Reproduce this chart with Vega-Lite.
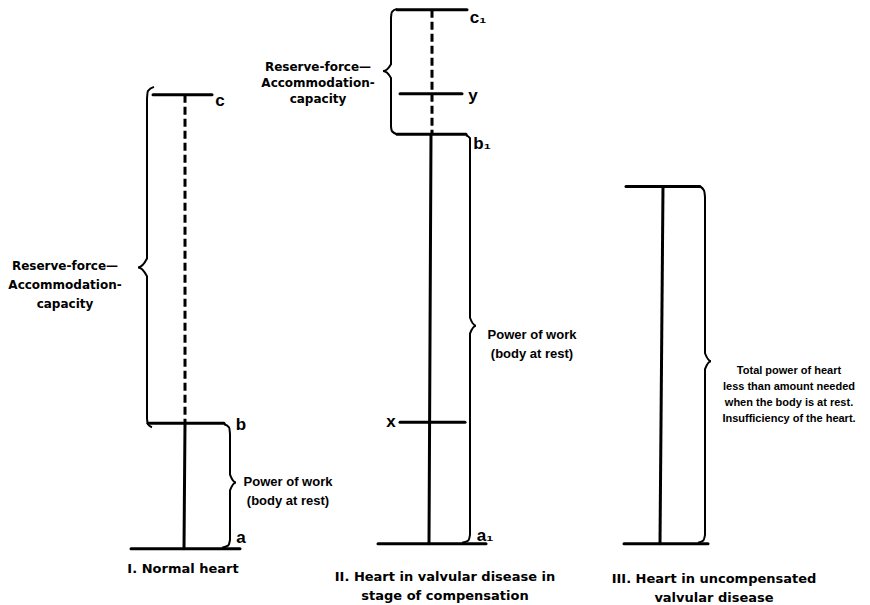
{
  "$schema": "https://vega.github.io/schema/vega-lite/v6.json",
  "width": 870,
  "height": 605,
  "autosize": {"type": "fit", "contains": "padding"},
  "padding": 0,
  "background": "white",
  "config": {"view": {"stroke": null}},
  "datasets": {
    "solid": [
      {"x": 153, "y": 96, "x2": 212, "y2": 96},
      {"x": 148, "y": 429, "x2": 224, "y2": 429},
      {"x": 131, "y": 556, "x2": 240, "y2": 556},
      {"x": 185, "y": 429, "x2": 184, "y2": 556},
      {"x": 397, "y": 10, "x2": 467, "y2": 10},
      {"x": 400, "y": 95, "x2": 462, "y2": 95},
      {"x": 397, "y": 136, "x2": 466, "y2": 136},
      {"x": 400, "y": 428, "x2": 465, "y2": 428},
      {"x": 378, "y": 551, "x2": 486, "y2": 551},
      {"x": 431, "y": 136, "x2": 429, "y2": 551},
      {"x": 626, "y": 189, "x2": 700, "y2": 189},
      {"x": 624, "y": 551, "x2": 708, "y2": 551},
      {"x": 663, "y": 189, "x2": 660, "y2": 551}
    ],
    "dashed": [
      {"x": 185, "y": 96, "x2": 185, "y2": 429},
      {"x": 432, "y": 10, "x2": 432, "y2": 136}
    ],
    "braces": [
      {"id": "I-left", "o": 1, "x": 154, "y": 88},
      {"id": "I-left", "o": 2, "x": 148, "y": 92},
      {"id": "I-left", "o": 3, "x": 147, "y": 100},
      {"id": "I-left", "o": 4, "x": 147, "y": 262},
      {"id": "I-left", "o": 5, "x": 138, "y": 271},
      {"id": "I-left", "o": 6, "x": 147, "y": 280},
      {"id": "I-left", "o": 7, "x": 147, "y": 424},
      {"id": "I-left", "o": 8, "x": 148, "y": 430},
      {"id": "I-left", "o": 9, "x": 152, "y": 433},
      {"id": "I-right", "o": 1, "x": 224, "y": 430},
      {"id": "I-right", "o": 2, "x": 229, "y": 433},
      {"id": "I-right", "o": 3, "x": 230, "y": 440},
      {"id": "I-right", "o": 4, "x": 230, "y": 481},
      {"id": "I-right", "o": 5, "x": 236, "y": 489},
      {"id": "I-right", "o": 6, "x": 230, "y": 497},
      {"id": "I-right", "o": 7, "x": 230, "y": 547},
      {"id": "I-right", "o": 8, "x": 228, "y": 553},
      {"id": "I-right", "o": 9, "x": 222, "y": 555},
      {"id": "II-left", "o": 1, "x": 397, "y": 9},
      {"id": "II-left", "o": 2, "x": 392, "y": 12},
      {"id": "II-left", "o": 3, "x": 391, "y": 18},
      {"id": "II-left", "o": 4, "x": 391, "y": 65},
      {"id": "II-left", "o": 5, "x": 383, "y": 72},
      {"id": "II-left", "o": 6, "x": 391, "y": 79},
      {"id": "II-left", "o": 7, "x": 391, "y": 128},
      {"id": "II-left", "o": 8, "x": 392, "y": 133},
      {"id": "II-left", "o": 9, "x": 397, "y": 136},
      {"id": "II-right", "o": 1, "x": 466, "y": 137},
      {"id": "II-right", "o": 2, "x": 470, "y": 140},
      {"id": "II-right", "o": 3, "x": 470, "y": 148},
      {"id": "II-right", "o": 4, "x": 470, "y": 322},
      {"id": "II-right", "o": 5, "x": 476, "y": 330},
      {"id": "II-right", "o": 6, "x": 470, "y": 338},
      {"id": "II-right", "o": 7, "x": 470, "y": 542},
      {"id": "II-right", "o": 8, "x": 468, "y": 548},
      {"id": "II-right", "o": 9, "x": 462, "y": 550},
      {"id": "III-right", "o": 1, "x": 700, "y": 189},
      {"id": "III-right", "o": 2, "x": 704, "y": 193},
      {"id": "III-right", "o": 3, "x": 705, "y": 200},
      {"id": "III-right", "o": 4, "x": 705, "y": 358},
      {"id": "III-right", "o": 5, "x": 711, "y": 366},
      {"id": "III-right", "o": 6, "x": 705, "y": 374},
      {"id": "III-right", "o": 7, "x": 705, "y": 542},
      {"id": "III-right", "o": 8, "x": 703, "y": 548},
      {"id": "III-right", "o": 9, "x": 698, "y": 550}
    ],
    "letters": [
      {"x": 220, "y": 102, "t": "c"},
      {"x": 241, "y": 431, "t": "b"},
      {"x": 241, "y": 545, "t": "a"},
      {"x": 478, "y": 18, "t": "c₁"},
      {"x": 473, "y": 97, "t": "y"},
      {"x": 482, "y": 146, "t": "b₁"},
      {"x": 391, "y": 428, "t": "x"},
      {"x": 485, "y": 543, "t": "a₁"}
    ],
    "notes": [
      {"x": 65, "y": 270, "t": "Reserve-force—\nAccommodation-\ncapacity", "k": "res1"},
      {"x": 318, "y": 68, "t": "Reserve-force—\nAccommodation-\ncapacity", "k": "res2"},
      {"x": 288, "y": 488, "t": "Power of work\n(body at rest)", "k": "pow"},
      {"x": 532, "y": 339, "t": "Power of work\n(body at rest)", "k": "pow"},
      {"x": 789, "y": 376, "t": "Total power of heart\nless than amount needed\nwhen the body is at rest.\nInsufficiency of the heart.", "k": "small"},
      {"x": 183, "y": 577, "t": "I.  Normal heart", "k": "cap"},
      {"x": 445, "y": 585, "t": "II.  Heart in valvular disease in\nstage of compensation", "k": "cap"},
      {"x": 714, "y": 587, "t": "III.  Heart in uncompensated\nvalvular disease", "k": "cap"}
    ]
  },
  "encoding": {
    "x": {"field": "x", "type": "quantitative", "scale": {"domain": [0, 870], "nice": false, "zero": false}, "axis": null},
    "y": {"field": "y", "type": "quantitative", "scale": {"domain": [0, 605], "reverse": true, "nice": false, "zero": false}, "axis": null}
  },
  "layer": [
    {
      "data": {"name": "solid"},
      "mark": {"type": "rule", "color": "black", "strokeWidth": 3, "strokeCap": "round"},
      "encoding": {"x2": {"field": "x2"}, "y2": {"field": "y2"}}
    },
    {
      "data": {"name": "dashed"},
      "mark": {"type": "rule", "color": "black", "strokeWidth": 3, "strokeDash": [8, 4]},
      "encoding": {"x2": {"field": "x2"}, "y2": {"field": "y2"}}
    },
    {
      "data": {"name": "braces"},
      "mark": {"type": "line", "color": "black", "strokeWidth": 2, "interpolate": "monotone"},
      "encoding": {"detail": {"field": "id"}, "order": {"field": "o", "type": "quantitative"}}
    },
    {
      "data": {"name": "letters"},
      "mark": {"type": "text", "font": "Liberation Sans", "fontWeight": "bold", "fontSize": 17, "align": "center", "baseline": "middle"},
      "encoding": {"text": {"field": "t"}}
    },
    {
      "data": {"name": "notes"},
      "transform": [{"filter": "datum.k == 'res1'"}],
      "mark": {"type": "text", "font": "DejaVu Sans", "fontWeight": "bold", "fontSize": 12, "lineHeight": 19, "lineBreak": "\n", "align": "center", "baseline": "middle"},
      "encoding": {"text": {"field": "t"}}
    },
    {
      "data": {"name": "notes"},
      "transform": [{"filter": "datum.k == 'res2'"}],
      "mark": {"type": "text", "font": "DejaVu Sans", "fontWeight": "bold", "fontSize": 12, "lineHeight": 16, "lineBreak": "\n", "align": "center", "baseline": "middle"},
      "encoding": {"text": {"field": "t"}}
    },
    {
      "data": {"name": "notes"},
      "transform": [{"filter": "datum.k == 'pow'"}],
      "mark": {"type": "text", "font": "Liberation Sans", "fontWeight": "bold", "fontSize": 13, "lineHeight": 19, "lineBreak": "\n", "align": "center", "baseline": "middle"},
      "encoding": {"text": {"field": "t"}}
    },
    {
      "data": {"name": "notes"},
      "transform": [{"filter": "datum.k == 'small'"}],
      "mark": {"type": "text", "font": "Liberation Sans", "fontWeight": "bold", "fontSize": 11, "lineHeight": 16, "lineBreak": "\n", "align": "center", "baseline": "middle"},
      "encoding": {"text": {"field": "t"}}
    },
    {
      "data": {"name": "notes"},
      "transform": [{"filter": "datum.k == 'cap'"}],
      "mark": {"type": "text", "font": "DejaVu Sans", "fontWeight": "bold", "fontSize": 13, "lineHeight": 19, "lineBreak": "\n", "align": "center", "baseline": "middle"},
      "encoding": {"text": {"field": "t"}}
    }
  ]
}
